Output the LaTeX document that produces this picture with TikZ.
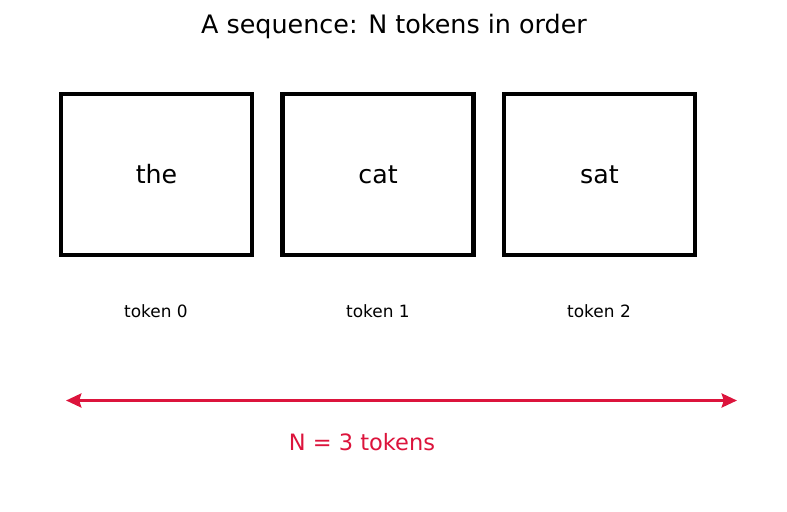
\documentclass[tikz,border=0pt]{standalone}
\usepackage{fontspec}
\setmainfont{DejaVu Sans}
\usetikzlibrary{arrows.meta}
\definecolor{crimson}{RGB}{220,20,60}
\tikzset{
  tokbox/.style={draw=black,line width=3.2pt,minimum width=137.5pt,minimum height=116pt,inner sep=0pt,font=\fontsize{18.2}{22}\selectfont},
  toklabel/.style={font=\fontsize{12.2}{14}\selectfont},
  head/.tip={Stealth[length=11pt,width=10pt,inset=1.5pt]},
}
\begin{document}
\begin{tikzpicture}[x=0.72pt,y=-0.72pt]
  \useasboundingbox (0,0) rectangle (787,512);
  \node[font=\fontsize{18.3}{22}\selectfont] (title) at (394,26) {A sequence: N tokens in order};
  \node[tokbox] (box0) at (156.5,174.5) {the};
  \node[tokbox] (box1) at (378,174.5) {cat};
  \node[tokbox] (box2) at (599.5,174.5) {sat};
  \node[toklabel] (lab0) at (156,311) {token 0};
  \node[toklabel] (lab1) at (378,311) {token 1};
  \node[toklabel] (lab2) at (599,311) {token 2};
  \coordinate (left) at (66,400.5);
  \coordinate (right) at (737,400.5);
  \draw[crimson,line width=2.6pt,head-head] (left) -- (right);
  \node[crimson,font=\fontsize{16.2}{19}\selectfont] (count) at (362,442) {N = 3 tokens};
\end{tikzpicture}
\end{document}
